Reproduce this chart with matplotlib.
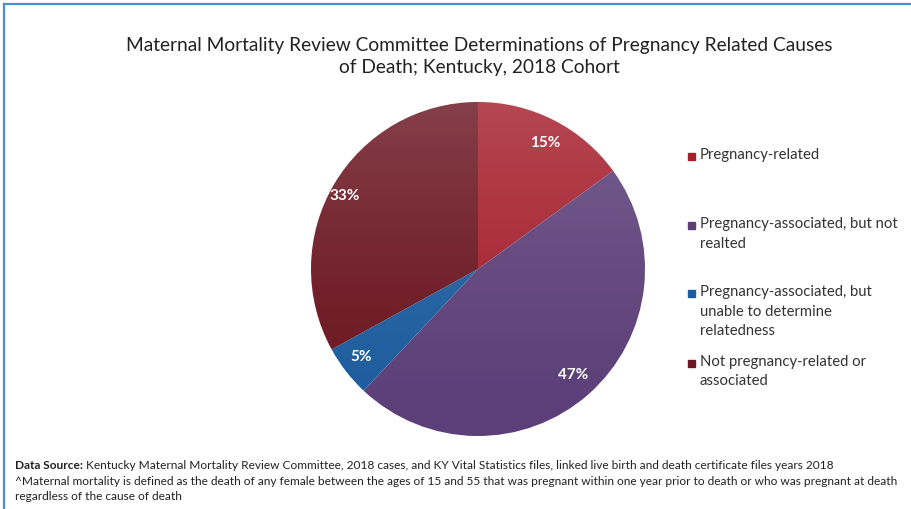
import numpy as np
import matplotlib
matplotlib.use("Agg")
import matplotlib.pyplot as plt
from matplotlib.patches import Rectangle, Circle
from matplotlib.lines import Line2D

plt.rcParams['font.family'] = ['Lato', 'DejaVu Sans']

categories = ["Pregnancy-related",
              "Pregnancy-associated, but not\nrealted",
              "Pregnancy-associated, but\nunable to determine\nrelatedness",
              "Not pregnancy-related or\nassociated"]
shares = [15, 47, 5, 33]
colors = ["#a51f2d", "#5c3f78", "#1d5c9e", "#6b1621"]
label_pos = [(545, 143), (573, 375), (361, 357), (345, 196)]
legend_y = [157, 226, 294, 364]

title = ("Maternal Mortality Review Committee Determinations of Pregnancy Related Causes\n"
         "of Death; Kentucky, 2018 Cohort")
source = ("Kentucky Maternal Mortality Review Committee, 2018 cases, and KY Vital Statistics files, "
          "linked live birth and death certificate files years 2018")
note = ("^Maternal mortality is defined as the death of any female between the ages of 15 and 55 "
        "that was pregnant within one year prior to death or who was pregnant at death\n"
        "regardless of the cause of death")

W, H = 912, 510
fig = plt.figure(figsize=(W / 100, H / 100), dpi=100)
fig.patch.set_facecolor("white")


def fx(x):
    return x / W


def fy(y):
    return 1 - y / H


# blue frame along the left and top edges
fig.add_artist(Line2D([fx(4), fx(4)], [fy(5), 0], color="#4a8fd0", lw=1.6))
fig.add_artist(Line2D([fx(4), 1], [fy(5), fy(5)], color="#4a8fd0", lw=1.6))

fig.text(fx(479), fy(56.5), title, ha="center", va="center", fontsize=13.8,
         color="#222222", linespacing=1.38)

# pie, centred at (478, 270) px with radius 167 px
cx, cy, r = 478, 270, 167
ax = fig.add_axes([fx(cx - r), fy(cy + r), 2 * r / W, 2 * r / H])
wedges, _ = ax.pie(shares, colors=colors, startangle=90, counterclock=False,
                   radius=1, wedgeprops=dict(linewidth=0))
ax.set_xlim(-1, 1)
ax.set_ylim(-1, 1)
ax.set_aspect("equal")
ax.axis("off")

# soft light-to-dark shading across the pie
grad = np.linspace(0, 1, 256)
shade = np.zeros((256, 1, 4))
shade[..., :3] = 1.0
shade[:, 0, 3] = 0.18 * grad ** 1.5
im = ax.imshow(shade, extent=(-1, 1, -1, 1), origin="lower", aspect="auto", zorder=3)
im.set_clip_path(Circle((0, 0), 1, transform=ax.transData))

for s, (px, py) in zip(shares, label_pos):
    fig.text(fx(px), fy(py), f"{s}%", ha="center", va="center", fontsize=11,
             fontweight="bold", color="white")

# legend
for c, lab, y in zip(colors, categories, legend_y):
    fig.add_artist(Rectangle((fx(688), fy(y + 4)), 7 / W, 7 / H, color=c,
                             transform=fig.transFigure))
    fig.text(fx(700), fy(y - 9), lab, ha="left", va="top", fontsize=10.7,
             color="#333333", linespacing=1.5)

# footnotes
t = fig.text(fx(15), fy(466), "Data Source:", ha="left", va="center", fontsize=8.6,
             fontweight="bold", color="#222222")
fig.canvas.draw()
bb = t.get_window_extent()
fig.text(bb.x1 / W + fx(3), fy(466), source, ha="left", va="center", fontsize=8.6,
         color="#222222")
fig.text(fx(15), fy(489), note, ha="left", va="center", fontsize=8.6,
         color="#222222", linespacing=1.45)

fig.savefig("out.png", dpi=100)
